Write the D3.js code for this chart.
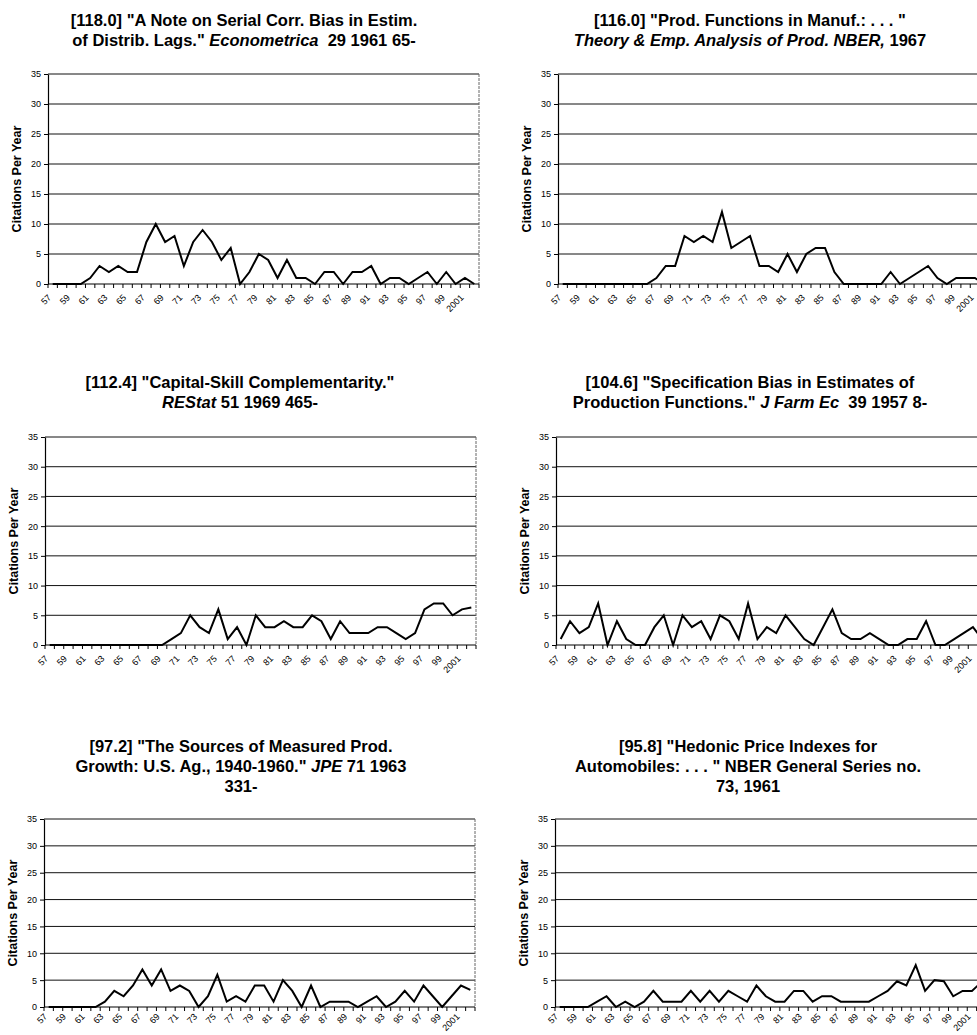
<!DOCTYPE html>
<html>
<head>
<meta charset="utf-8">
<script src="https://cdn.jsdelivr.net/npm/d3@7"></script>
<style>
  body { margin: 0; background: #fff; }
  svg { display: block; font-family: "Liberation Sans", Arial, sans-serif; }
</style>
</head>
<body>
<div id="chart"></div>
<script>
// categories: one per year, 1957 .. 2002
const years = d3.range(1957, 2003);
const tickLabels = ["57", "59", "61", "63", "65", "67", "69", "71", "73", "75", "77", "79",
  "81", "83", "85", "87", "89", "91", "93", "95", "97", "99", "2001"];
const yTicks = [0, 5, 10, 15, 20, 25, 30, 35];

// citations per year
const serialCorr = [0, 0, 0, 0, 1, 3, 2, 3, 2, 2, 7, 10, 7, 8, 3, 7, 9, 7, 4, 6, 0, 2, 5, 4,
  1, 4, 1, 1, 0, 2, 2, 0, 2, 2, 3, 0, 1, 1, 0, 1, 2, 0, 2, 0, 1, 0];
const prodFunctions = [0, 0, 0, 0, 0, 0, 0, 0, 0, 0, 1, 3, 3, 8, 7, 8, 7, 12, 6, 7, 8, 3, 3, 2,
  5, 2, 5, 6, 6, 2, 0, 0, 0, 0, 0, 2, 0, 1, 2, 3, 1, 0, 1, 1, 1, 0];
const capitalSkill = [0, 0, 0, 0, 0, 0, 0, 0, 0, 0, 0, 0, 0, 1, 2, 5, 3, 2, 6, 1, 3, 0, 5, 3,
  3, 4, 3, 3, 5, 4, 1, 4, 2, 2, 2, 3, 3, 2, 1, 2, 6, 7, 7, 5, 6, 6.3];
const specBias = [1, 4, 2, 3, 7, 0, 4, 1, 0, 0, 3, 5, 0, 5, 3, 4, 1, 5, 4, 1, 7, 1, 3, 2,
  5, 3, 1, 0, 3, 6, 2, 1, 1, 2, 1, 0, 0, 1, 1, 4, 0, 0, 1, 2, 3, 1];
const sourcesGrowth = [0, 0, 0, 0, 0, 0, 1, 3, 2, 4, 7, 4, 7, 3, 4, 3, 0, 2, 6, 1, 2, 1, 4, 4,
  1, 5, 3, 0, 4, 0, 1, 1, 1, 0, 1, 2, 0, 1, 3, 1, 4, 2, 0, 2, 4, 3.2];
const hedonicPrice = [0, 0, 0, 0, 1, 2, 0, 1, 0, 1, 3, 1, 1, 1, 3, 1, 3, 1, 3, 2, 1, 4, 2, 1,
  1, 3, 3, 1, 2, 2, 1, 1, 1, 1, 2, 3, 4.8, 4, 7.8, 3, 5, 4.8, 2, 3, 3, 4.6];

// titles: lines of [text, italic]
const titleSerialCorr = [
  [["[118.0] \"A Note on Serial Corr. Bias in Estim.", false]],
  [["of Distrib. Lags.\" ", false], ["Econometrica", true], ["  29 1961 65-", false]]
];
const titleProdFunctions = [
  [["[116.0] \"Prod. Functions in Manuf.: . . . \"", false]],
  [["Theory & Emp. Analysis of Prod. NBER,", true], [" 1967", false]]
];
const titleCapitalSkill = [
  [["[112.4] \"Capital-Skill Complementarity.\"", false]],
  [["REStat", true], [" 51 1969 465-", false]]
];
const titleSpecBias = [
  [["[104.6] \"Specification Bias in Estimates of", false]],
  [["Production Functions.\" ", false], ["J Farm Ec", true], ["  39 1957 8-", false]]
];
const titleSourcesGrowth = [
  [["[97.2] \"The Sources of Measured Prod.", false]],
  [["Growth: U.S. Ag., 1940-1960.\" ", false], ["JPE", true], [" 71 1963", false]],
  [["331-", false]]
];
const titleHedonicPrice = [
  [["[95.8] \"Hedonic Price Indexes for", false]],
  [["Automobiles: . . . \" NBER General Series no.", false]],
  [["73, 1961", false]]
];

const W = 977, H = 1035;
const plotWidth = 431;

const panels = [
  { values: serialCorr, title: titleSerialCorr, left: 48, top: 74, bottom: 284, titleX: 244, titleY: 26, labelGap: 12 },
  { values: prodFunctions, title: titleProdFunctions, left: 558, top: 74, bottom: 284, titleX: 750, titleY: 26, labelGap: 12 },
  { values: capitalSkill, title: titleCapitalSkill, left: 45, top: 437, bottom: 645, titleX: 240, titleY: 388, labelGap: 12 },
  { values: specBias, title: titleSpecBias, left: 556, top: 437, bottom: 645, titleX: 750, titleY: 388, labelGap: 12 },
  { values: sourcesGrowth, title: titleSourcesGrowth, left: 44, top: 819, bottom: 1007, titleX: 241, titleY: 752, labelGap: 8 },
  { values: hedonicPrice, title: titleHedonicPrice, left: 555, top: 819, bottom: 1007, titleX: 748, titleY: 752, labelGap: 8 }
];

const svg = d3.select("#chart").append("svg")
  .attr("width", W)
  .attr("height", H)
  .attr("viewBox", [0, 0, W, H]);

svg.append("rect").attr("width", W).attr("height", H).attr("fill", "#fff");

panels.forEach(p => drawPanel(p));

function drawPanel(p) {
  const right = p.left + plotWidth;
  const x = d3.scaleBand().domain(years).range([p.left, right]).padding(0);
  const y = d3.scaleLinear().domain([0, 35]).range([p.bottom, p.top]);
  const cx = d => x(d) + x.bandwidth() / 2;

  const g = svg.append("g");

  // title
  p.title.forEach((line, i) => {
    const t = g.append("text")
      .attr("x", p.titleX)
      .attr("y", p.titleY + i * 20)
      .attr("text-anchor", "middle")
      .attr("font-size", 16.5)
      .attr("font-weight", "bold")
      .attr("fill", "#000");
    line.forEach(([txt, it]) => {
      t.append("tspan")
        .attr("font-style", it ? "italic" : "normal")
        .attr("xml:space", "preserve")
        .text(txt);
    });
  });

  // horizontal gridlines
  g.append("g")
    .selectAll("line")
    .data(yTicks.filter(d => d > 0))
    .join("line")
    .attr("x1", p.left).attr("x2", right)
    .attr("y1", d => y(d)).attr("y2", d => y(d))
    .attr("stroke", "#111")
    .attr("stroke-width", 1);

  // right border
  g.append("line")
    .attr("x1", right).attr("x2", right)
    .attr("y1", y(35)).attr("y2", y(0))
    .attr("stroke", "#666")
    .attr("stroke-width", 1)
    .attr("stroke-dasharray", "3,1");

  // y axis
  const yAxis = g.append("g")
    .attr("transform", `translate(${p.left},0)`)
    .call(d3.axisLeft(y).tickValues(yTicks).tickSizeInner(4).tickSizeOuter(0).tickPadding(3));
  yAxis.select(".domain").attr("stroke", "#000").attr("stroke-width", 1.2);
  yAxis.selectAll(".tick line").attr("stroke", "#000");
  yAxis.selectAll(".tick text")
    .attr("font-size", 9)
    .attr("font-family", "Liberation Sans, Arial, sans-serif")
    .attr("fill", "#000");

  // x axis: line, boundary ticks, rotated labels
  g.append("line")
    .attr("x1", p.left).attr("x2", right)
    .attr("y1", y(0)).attr("y2", y(0))
    .attr("stroke", "#000")
    .attr("stroke-width", 1.2);

  g.append("g")
    .selectAll("line")
    .data(years.map(d => x(d)).concat([right]))
    .join("line")
    .attr("x1", d => d).attr("x2", d => d)
    .attr("y1", y(0)).attr("y2", y(0) + 4)
    .attr("stroke", "#000");

  g.append("g")
    .selectAll("text")
    .data(tickLabels)
    .join("text")
    .attr("transform", d => {
      const yr = d.length === 2 ? 1900 + (+d) : +d;
      return `translate(${cx(yr) - 3},${y(0) + p.labelGap}) rotate(-45)`;
    })
    .attr("text-anchor", "end")
    .attr("dy", "0.35em")
    .attr("font-size", 9)
    .attr("fill", "#000")
    .text(d => d);

  // y axis title
  g.append("text")
    .attr("transform", `translate(${p.left - 27},${(p.top + p.bottom) / 2}) rotate(-90)`)
    .attr("text-anchor", "middle")
    .attr("font-size", 12.5)
    .attr("font-weight", "bold")
    .attr("fill", "#000")
    .text("Citations Per Year");

  // the series line
  const pts = years.map((yr, i) => ({ year: yr, value: p.values[i] }));
  g.append("path")
    .datum(pts)
    .attr("fill", "none")
    .attr("stroke", "#000")
    .attr("stroke-width", 2)
    .attr("stroke-linejoin", "miter")
    .attr("d", d3.line().x(d => cx(d.year)).y(d => y(d.value)));
}
</script>
</body>
</html>
